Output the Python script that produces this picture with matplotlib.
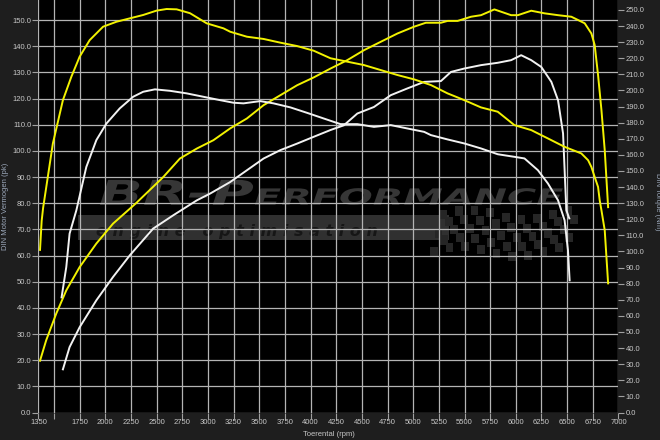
import numpy as np
import matplotlib
matplotlib.use('Agg')
from matplotlib import pyplot as plt
from matplotlib.textpath import TextPath
from matplotlib.patches import PathPatch, Rectangle
from matplotlib.font_manager import FontProperties
from matplotlib.transforms import Affine2D

# yellow run: power (pk, left axis) and torque (Nm, right axis)
rpm_p1 = [1365, 1425, 1523, 1621, 1751, 1914, 2076, 2300, 2565, 2728, 2892, 3054, 3217, 3380,
          3543, 3706, 3869, 4031, 4195, 4358, 4520, 4683, 4847, 5009, 5123, 5270, 5335, 5433,
          5563, 5661, 5791, 5954, 6020, 6150, 6280, 6411, 6541, 6671, 6736, 6768, 6801, 6834,
          6866, 6899]
p1 = [19.8, 27.6, 37.8, 46.7, 55.6, 64.6, 72.2, 80.0, 90.0, 97.1, 100.9, 104.1, 108.6, 112.4,
      117.5, 121.3, 125.1, 128.1, 131.5, 134.7, 138.5, 141.7, 144.9, 147.5, 149.0, 149.0, 149.7, 149.7,
      151.3, 151.9, 154.1, 151.9, 151.9, 153.6, 152.6, 151.9, 151.3, 148.8, 144.9, 140.5, 129.0, 115.6,
      100.3, 78.5]

rpm_t1 = [1365, 1381, 1395, 1490, 1588, 1670, 1751, 1849, 1979, 2110, 2240, 2370, 2500, 2598,
          2696, 2826, 2989, 3152, 3217, 3380, 3543, 3706, 3869, 4031, 4195, 4358, 4520, 4683,
          4847, 5009, 5172, 5335, 5498, 5660, 5824, 5986, 6150, 6313, 6475, 6638, 6704, 6736,
          6768, 6801, 6817, 6834, 6866, 6899]
t1 = [101.0, 119.0, 127.0, 167.0, 194.0, 208.5, 221.0, 231.3, 239.6, 242.7, 244.8, 246.9, 249.6, 250.6,
      250.4, 248.0, 241.7, 238.6, 236.5, 233.4, 232.0, 229.7, 227.6, 224.7, 220.0, 217.9, 215.8, 212.7,
      209.6, 206.9, 203.4, 198.2, 194.0, 189.5, 186.8, 178.5, 175.4, 170.2, 165.0, 160.9, 156.7, 152.5,
      146.3, 140.1, 131.8, 125.6, 113.2, 80.2]

# white run
rpm_p2 = [1588, 1653, 1751, 1914, 2076, 2240, 2467, 2663, 2892, 3022, 3217, 3380, 3543, 3706,
          3869, 4031, 4195, 4325, 4456, 4618, 4781, 4944, 5107, 5270, 5368, 5498, 5661, 5824,
          5954, 6052, 6150, 6248, 6346, 6411, 6460, 6492, 6521]
p2 = [16.5, 25.0, 32.6, 42.9, 51.8, 60.1, 70.3, 75.4, 81.1, 83.7, 88.1, 92.6, 97.1, 100.3,
      102.8, 105.4, 108.0, 109.8, 114.3, 116.8, 121.3, 123.9, 126.4, 126.7, 130.2, 131.5, 132.8, 133.7,
      134.7, 136.6, 134.7, 132.1, 126.4, 119.4, 106.7, 77.3, 74.2]

rpm_t2 = [1575, 1621, 1653, 1719, 1816, 1914, 2012, 2142, 2272, 2370, 2484, 2631, 2794, 2956,
          3119, 3249, 3347, 3510, 3640, 3804, 3967, 4129, 4292, 4456, 4618, 4781, 4944, 5107,
          5172, 5335, 5498, 5661, 5824, 5986, 6084, 6215, 6313, 6411, 6475, 6508, 6524]
t2 = [71.5, 90.4, 111.1, 125.6, 152.5, 169.2, 179.5, 188.9, 196.1, 199.2, 200.7, 199.8, 198.2, 196.1,
      194.0, 192.4, 192.0, 193.4, 192.0, 189.5, 186.1, 182.6, 179.1, 179.1, 177.4, 178.5, 176.4, 174.3,
      172.3, 169.6, 167.1, 164.0, 160.4, 158.8, 157.8, 150.5, 142.2, 131.8, 119.4, 100.7, 82.1]

x_ticks = [1350, 1500, 1750, 2000, 2250, 2500, 2750, 3000, 3250, 3500, 3750, 4000, 4250, 4500,
           4750, 5000, 5250, 5500, 5750, 6000, 6250, 6500, 6750, 7000]
x_labels = [str(v) if v != 1500 else '' for v in x_ticks]
pk_ticks = np.arange(0, 151, 10)
nm_ticks = np.arange(0, 251, 10)

YELLOW = '#f2f200'
WHITE = '#f2f2f2'
TICKC = '#c8c8c8'
FONT = 'Liberation Sans'


def stretched_text(ax, s, x0, x1, y0, y1, color, z):
    # text path scaled to fill a box given in axes coordinates
    tp = TextPath((0, 0), s, size=10, prop=FontProperties(family='DejaVu Sans', weight='bold', style='italic'))
    bb = tp.get_extents()
    tr = Affine2D().translate(-bb.x0, -bb.y0).scale((x1 - x0) / bb.width, (y1 - y0) / bb.height).translate(x0, y0)
    ax.add_patch(PathPatch(tp, transform=tr + ax.transAxes, facecolor=color, lw=0, zorder=z))


fig = plt.figure(figsize=(6.6, 4.4), dpi=100, facecolor='#1e1e1e')
ax = fig.add_axes([0.0583, 0.0625, 0.8788, 0.9375])
ax.set_facecolor('black')
ax2 = ax.twinx()

# watermark
ax.add_patch(Rectangle((0.068, 0.418), 0.64, 0.062, transform=ax.transAxes,
                       facecolor='#303030', lw=0, zorder=0.1))
for i in range(18):
    for j in range(5):
        if (i + j) % 2 == 0:
            xs = 0.675 + i * 0.0135 + j * 0.004
            ys = 0.38 + j * 0.022 + 0.012 * np.sin(i * 0.45)
            ax.add_patch(Rectangle((xs, ys), 0.0135, 0.022, transform=ax.transAxes,
                                   facecolor='#262626', lw=0, zorder=0.1))
stretched_text(ax, 'BR-P', 0.106, 0.37, 0.503, 0.564, '#363636', 0.2)
stretched_text(ax, 'ERFORMANCE', 0.373, 0.904, 0.503, 0.544, '#363636', 0.2)
ax.text(0.1, 0.427, 'e n g i n e   o p t i m i s a t i o n', transform=ax.transAxes,
        fontsize=11.5, fontweight='bold', style='italic', color='#161616', zorder=0.2,
        family='DejaVu Sans', va='baseline')

ax.plot(rpm_p1, p1, color=YELLOW, lw=1.4, zorder=3)
ax.plot(rpm_p2, p2, color=WHITE, lw=1.4, zorder=3)
ax2.plot(rpm_t1, t1, color=YELLOW, lw=1.4)
ax2.plot(rpm_t2, t2, color=WHITE, lw=1.4)

ax.set_xlim(1350, 7000)
ax.set_ylim(0, 157.7)
ax2.set_ylim(0, 256.2)

ax.set_xticks(x_ticks)
ax.set_xticklabels(x_labels)
ax.set_yticks(pk_ticks)
ax.set_yticklabels(['%.1f' % v for v in pk_ticks])
ax2.set_yticks(nm_ticks)
ax2.set_yticklabels(['%.1f' % v for v in nm_ticks])

ax.set_axisbelow(True)
ax.grid(True, color='#b4b4b4', lw=0.9)
for a in (ax, ax2):
    for sp in a.spines.values():
        sp.set_visible(False)
    a.tick_params(colors='#a0a0a0', labelcolor=TICKC, labelsize=5.5, length=4, width=0.8, pad=1)
    for lab in a.get_xticklabels() + a.get_yticklabels():
        lab.set_family(FONT)

ax.set_xlabel('Toerental (rpm)', fontsize=5.5, color=TICKC, family=FONT)
ax.xaxis.set_label_coords(0.5, -0.045)
ax.set_ylabel('DIN Motor Vermogen (pk)', fontsize=5.5, color='#9aa6b8', family=FONT)
ax.yaxis.set_label_coords(-0.05, 0.5)
ax2.set_ylabel('DIN Torque (Nm)', fontsize=5.5, color='#9aa6b8', family=FONT, rotation=270, va='bottom')
ax2.yaxis.set_label_coords(1.062, 0.51)

fig.savefig('out.png', dpi=100, facecolor=fig.get_facecolor())
